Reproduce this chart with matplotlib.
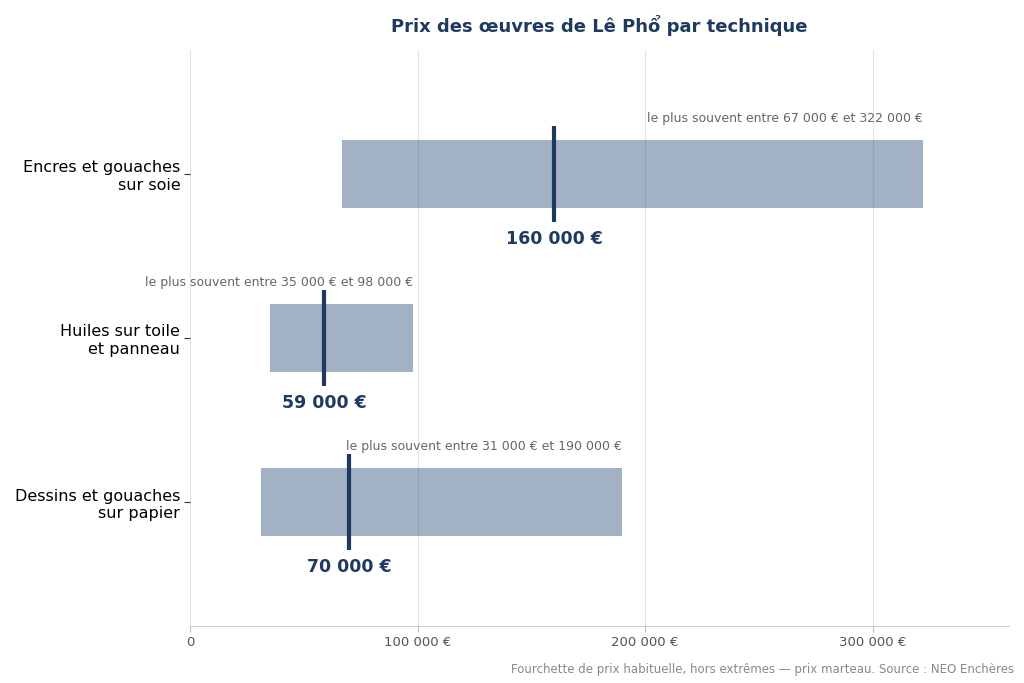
import matplotlib
matplotlib.use("Agg")
import matplotlib.pyplot as plt
from matplotlib.ticker import FuncFormatter

categories = ["Encres et gouaches\nsur soie", "Huiles sur toile\net panneau", "Dessins et gouaches\nsur papier"]
low = [67000, 35000, 31000]
high = [322000, 98000, 190000]
median = [160000, 59000, 70000]

navy = "#1f3a5f"
bar_color = "#33527e"

def fmt(v):
    return f"{int(v):,}".replace(",", " ") + " €"

fig = plt.figure(figsize=(10.24, 6.83), dpi=100)
ax = fig.add_axes([190/1024, 1-626/683, (1009-190)/1024, (626-50)/683])

ys = list(range(len(categories)))
for y, lo, hi, md in zip(ys, low, high, median):
    ax.barh(y, hi - lo, left=lo, height=0.42, color=bar_color, alpha=0.45, zorder=2)
    ax.vlines(md, y - 0.295, y + 0.295, color=navy, linewidth=3, zorder=3)
    ax.text(md, y + 0.395, fmt(md), ha="center", va="center", fontsize=12.5,
            fontweight="bold", color=navy)
    ax.text(hi, y - 0.34, f"le plus souvent entre {fmt(lo)} et {fmt(hi)}",
            ha="right", va="center", fontsize=9, color="#666666")

ax.set_ylim(2.756, -0.756)
ax.set_xlim(0, 360000)
ax.set_yticks(ys)
ax.set_yticklabels(categories, fontsize=11.5)
ax.set_xticks([0, 100000, 200000, 300000])
ax.xaxis.set_major_formatter(FuncFormatter(lambda v, p: "0" if v == 0 else fmt(v)))
ax.tick_params(axis="x", labelsize=9.5, colors="#555555", length=4, color="#bbbbbb")
ax.tick_params(axis="y", length=4, color="#333333", pad=3)
ax.grid(axis="x", color="#e5e5e5", linewidth=0.8, zorder=0)
ax.set_axisbelow(True)
for s in ["top", "right", "left"]:
    ax.spines[s].set_visible(False)
ax.spines["bottom"].set_color("#cccccc")

ax.set_title("Prix des œuvres de Lê Phổ par technique", fontsize=13, fontweight="bold",
             color=navy, pad=13)
fig.text(1014/1024, 1-669/683, "Fourchette de prix habituelle, hors extrêmes — prix marteau. Source : NEO Enchères",
         ha="right", va="center", fontsize=8.5, color="#888888")

fig.savefig("out.png", dpi=100)
